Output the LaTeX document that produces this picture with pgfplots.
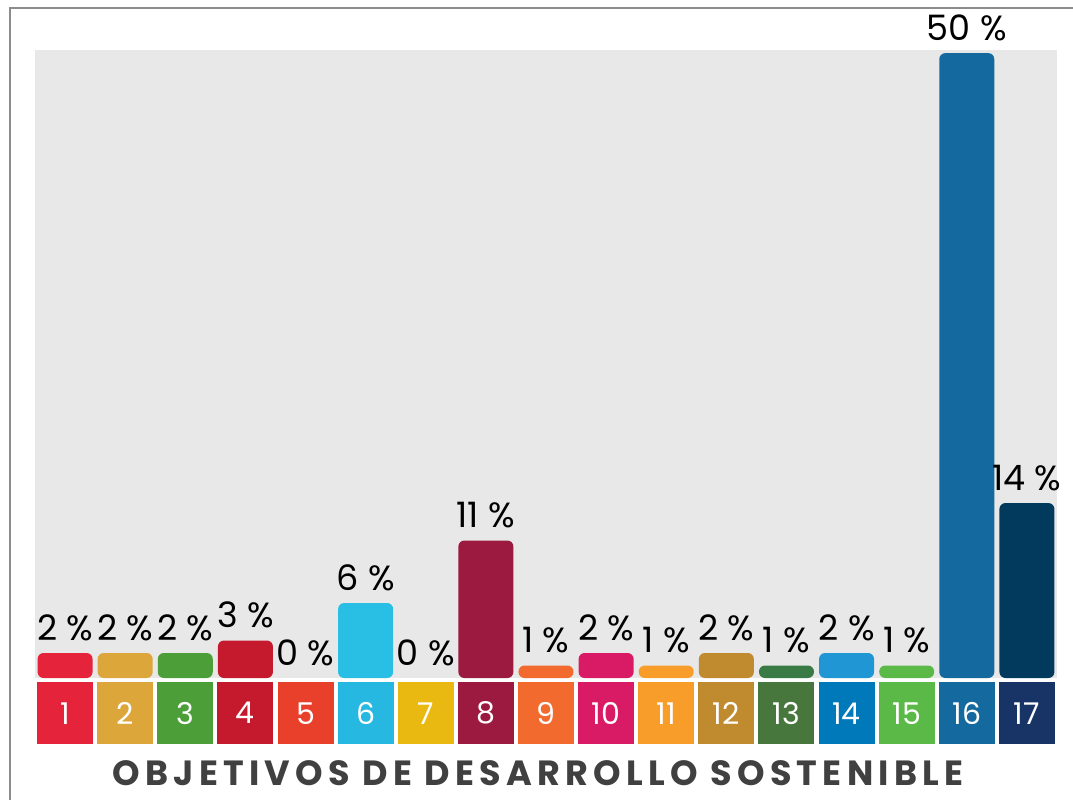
\documentclass[border=0pt]{standalone}
\usepackage{fontspec}
\setmainfont{Poppins}
\usepackage{pgfplots}
\pgfplotsset{compat=1.18}
\definecolor{bg}{HTML}{E8E8E8}
\definecolor{frame}{HTML}{8C8C8C}
\definecolor{titlec}{HTML}{404040}
% bar colours
\definecolor{b1}{HTML}{E5243B}
\definecolor{b2}{HTML}{DDA63A}
\definecolor{b3}{HTML}{4C9F38}
\definecolor{b4}{HTML}{C5192D}
\definecolor{b5}{HTML}{E8402A}
\definecolor{b6}{HTML}{29BFE5}
\definecolor{b7}{HTML}{E9B911}
\definecolor{b8}{HTML}{9C1A40}
\definecolor{b9}{HTML}{F26A2E}
\definecolor{b10}{HTML}{D91A65}
\definecolor{b11}{HTML}{F89D2A}
\definecolor{b12}{HTML}{BF8B2E}
\definecolor{b13}{HTML}{3A7A45}
\definecolor{b14}{HTML}{2196D5}
\definecolor{b15}{HTML}{5BB948}
\definecolor{b16}{HTML}{146A9E}
\definecolor{b17}{HTML}{023A5E}
% tile colours
\definecolor{t1}{HTML}{E5243B}
\definecolor{t2}{HTML}{DDA63A}
\definecolor{t3}{HTML}{4C9F38}
\definecolor{t4}{HTML}{C5192D}
\definecolor{t5}{HTML}{E8402A}
\definecolor{t6}{HTML}{26B8E0}
\definecolor{t7}{HTML}{E9B911}
\definecolor{t8}{HTML}{9C1A40}
\definecolor{t9}{HTML}{F26A2E}
\definecolor{t10}{HTML}{D91A65}
\definecolor{t11}{HTML}{F89D2A}
\definecolor{t12}{HTML}{BF8B2E}
\definecolor{t13}{HTML}{48773E}
\definecolor{t14}{HTML}{0079BA}
\definecolor{t15}{HTML}{5BB948}
\definecolor{t16}{HTML}{146A9E}
\definecolor{t17}{HTML}{183365}
\newcommand\tile[2]{{\setlength\fboxsep{0pt}\colorbox{#1}{\parbox[c][62pt][c]{56pt}{\centering\color{white}\fontsize{30}{30}\selectfont #2}}}}
\begin{document}
\begin{tikzpicture}
\useasboundingbox (0pt,0pt) rectangle (1073pt,-800pt);
\draw[line width=2.5pt, frame] (10pt,-800pt) -- (10pt,-8pt) -- (1075pt,-8pt);
\begin{axis}[
  at={(35pt,-678pt)}, anchor=south west,
  scale only axis, width=1022pt, height=628pt,
  xmin=0.5, xmax=17.5, ymin=0, ymax=50.25,
  axis background/.style={fill=bg},
  axis line style={draw=none},
  major tick length=0pt,
  ytick=\empty,
  xtick={1,...,17},
  xticklabels={{\tile{t1}{1}},{\tile{t2}{2}},{\tile{t3}{3}},{\tile{t4}{4}},{\tile{t5}{5}},{\tile{t6}{6}},{\tile{t7}{7}},{\tile{t8}{8}},{\tile{t9}{9}},{\tile{t10}{10}},{\tile{t11}{11}},{\tile{t12}{12}},{\tile{t13}{13}},{\tile{t14}{14}},{\tile{t15}{15}},{\tile{t16}{16}},{\tile{t17}{17}}},
  xticklabel style={inner sep=0pt, anchor=north, yshift=-4pt},
  ybar, bar width=55pt,
  every axis plot/.append style={bar shift=0pt, draw=none, rounded corners=6pt},
  /pgf/number format/assume math mode=true,
  nodes near coords={\pgfmathprintnumber{\pgfplotspointmeta} \%},
  every node near coord/.append style={text=black, anchor=base, yshift=13pt, inner sep=0pt, font=\fontsize{35}{35}\selectfont},
  clip=false,
]
\addplot[fill=b1] coordinates {(1,2)};
\addplot[fill=b2] coordinates {(2,2)};
\addplot[fill=b3] coordinates {(3,2)};
\addplot[fill=b4] coordinates {(4,3)};
\addplot[fill=none] coordinates {(5,0)};
\addplot[fill=b6] coordinates {(6,6)};
\addplot[fill=none] coordinates {(7,0)};
\addplot[fill=b8] coordinates {(8,11)};
\addplot[fill=b9] coordinates {(9,1)};
\addplot[fill=b10] coordinates {(10,2)};
\addplot[fill=b11] coordinates {(11,1)};
\addplot[fill=b12] coordinates {(12,2)};
\addplot[fill=b13] coordinates {(13,1)};
\addplot[fill=b14] coordinates {(14,2)};
\addplot[fill=b15] coordinates {(15,1)};
\addplot[fill=b16] coordinates {(16,50)};
\addplot[fill=b17] coordinates {(17,14)};
\end{axis}
\node[anchor=base, text=titlec, inner sep=0pt] at (538pt,-785pt) {\addfontfeature{LetterSpace=15}\fontsize{35}{35}\selectfont\bfseries OBJETIVOS DE DESARROLLO SOSTENIBLE};
\end{tikzpicture}
\end{document}
